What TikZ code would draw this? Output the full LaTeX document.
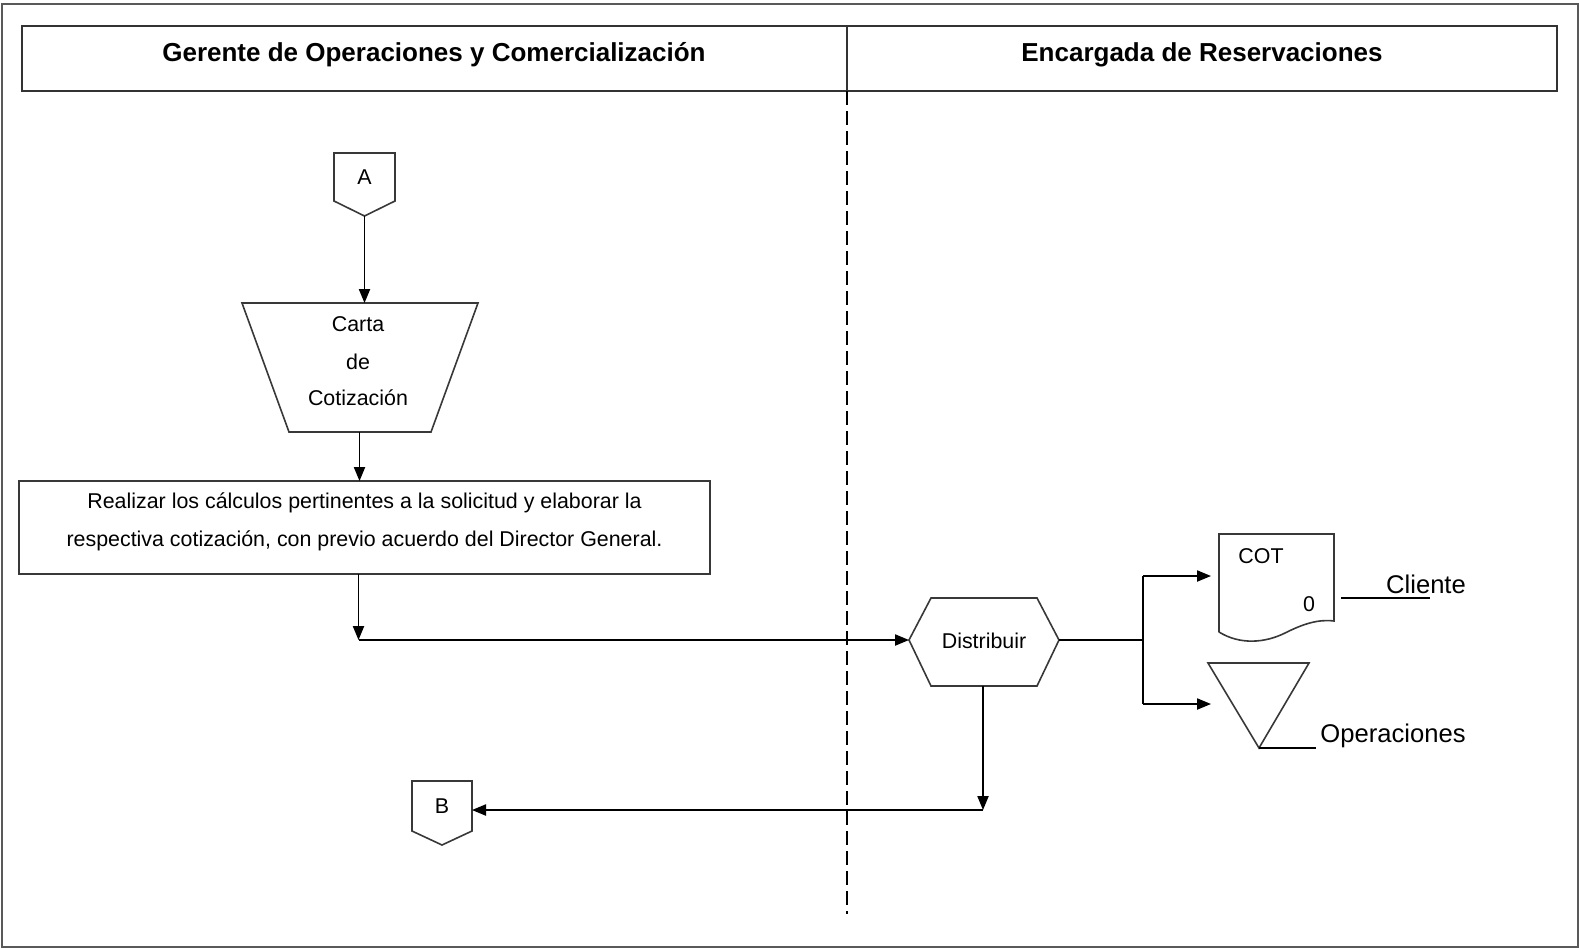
\documentclass[tikz,border=0pt]{standalone}
\usepackage{fontspec}
\setmainfont{Liberation Sans}
\usetikzlibrary{arrows.meta}
\begin{document}
\begin{tikzpicture}[x=0.5pt,y=-0.5pt,
  shapeline/.style={draw=black!78, line width=0.8pt},
  flow/.style={draw=black, line width=0.75pt},
  arr/.style={flow, -{Triangle[length=7pt,width=5.6pt]}},
  lbl/.style={font=\fontsize{10.7}{12}\selectfont, inner sep=0pt},
  big/.style={font=\fontsize{12.8}{14}\selectfont, inner sep=0pt},
  head/.style={font=\fontsize{13}{15}\selectfont\bfseries, inner sep=0pt}]
\useasboundingbox (0,0) rectangle (1579,948);
% outer frame
\draw[draw=black!65, line width=1pt] (1.5,3.5) rectangle (1577.5,946.5);
% lane header
\draw[draw=black!80, line width=1pt] (22,26) rectangle (1557,91);
\draw[draw=black!80, line width=1pt] (847,26) -- (847,91);
\node[head] (h1) at (434,55) {Gerente de Operaciones y Comercialización};
\node[head] (h2) at (1202,55) {Encargada de Reservaciones};
% lane separator
\draw[flow, dash pattern=on 7pt off 3pt, line width=0.6pt] (847,91) -- (847,914);

% off-page connector A
\draw[shapeline] (334,153) -- (395,153) -- (395,201) -- (364.5,216) -- (334,201) -- cycle;
\node[lbl] (A) at (364.5,177) {A};
\coordinate (Aout) at (364.5,216);
% document (manual input) trapezium
\draw[shapeline] (242,303) -- (478,303) -- (431,432) -- (289,432) -- cycle;
\coordinate (Tin) at (364.5,303);
\coordinate (Tout) at (359.5,432);
\node[lbl] (t1) at (358,324) {Carta};
\node[lbl] (t2) at (358,362) {de};
\node[lbl] (t3) at (358,398) {Cotización};
% process box
\draw[shapeline] (19,481) rectangle (710,574);
\coordinate (Pin) at (359.5,481);
\coordinate (Pout) at (358.5,574);
\node[lbl] (p1) at (364.5,503) {Realizar los cálculos pertinentes a la solicitud y elaborar la};
\node[lbl] (p2) at (364.5,541) {respectiva cotización, con previo acuerdo del Director General.};
% hexagon
\draw[shapeline] (909,640) -- (931,598) -- (1037,598) -- (1059,640) -- (1037,686) -- (931,686) -- cycle;
\node[lbl] (D) at (984,641) {Distribuir};
\coordinate (Din) at (909,640);
\coordinate (Dout) at (1059,640);
\coordinate (Ddown) at (983,686);
% document COT
\draw[shapeline] (1219,632) -- (1219,534) -- (1334,534) -- (1334,621)
  .. controls (1318,619) and (1303,624) .. (1285,633)
  .. controls (1265,643) and (1240,645) .. (1219,632);
\node[lbl] (cot) at (1261,556) {COT};
\node[lbl] (zero) at (1309,604) {0};
\coordinate (Cin) at (1211,576);
% archive triangle
\draw[shapeline] (1208,663) -- (1309,663) -- (1259,748) -- cycle;
\coordinate (Oin) at (1211,704);
% destinations
\draw[flow] (1341,598) -- (1430,598);
\node[big, anchor=base] (cl) at (1426,593) {Cliente};
\draw[flow] (1259,748) -- (1316,748);
\node[big, anchor=base] (op) at (1393,742) {Operaciones};
% off-page connector B
\draw[shapeline] (412,781) -- (472,781) -- (472,831) -- (442,845) -- (412,831) -- cycle;
\node[lbl] (B) at (442,806) {B};
\coordinate (Bin) at (472,810);

% connectors
\coordinate (c1) at (358.5,640);
\coordinate (sp) at (1143,640);
\coordinate (spT) at (1143,576);
\coordinate (spB) at (1143,704);
\coordinate (c2) at (983,810);
\draw[arr] (Aout) -- (Tin);
\draw[arr] (Tout) -- (Pin);
\draw[arr] (Pout) -- (c1);
\draw[arr] (c1) -- (Din);
\draw[flow] (Dout) -- (sp);
\draw[flow] (spT) -- (spB);
\draw[arr] (spT) -- (Cin);
\draw[arr] (spB) -- (Oin);
\draw[arr] (Ddown) -- (c2);
\draw[arr] (c2) -- (Bin);
\end{tikzpicture}
\end{document}
